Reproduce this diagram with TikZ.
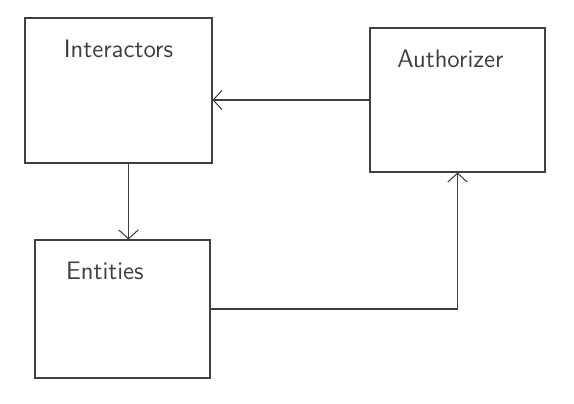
\documentclass[tikz,border=0pt]{standalone}
\usepackage{tikz}
\usetikzlibrary{positioning, arrows.meta}

\begin{document}
\begin{tikzpicture}[
    x=0.02cm, y=-0.02cm,
    >={Straight Barb[length=5pt, width=11pt]},
    font=\sffamily\Large,
    box/.style={rectangle, draw=black!75, semithick, inner sep=0pt},
    title/.style={anchor=north, text=black!75, yshift=-9pt},
    arrow/.style={->, draw=black!75, semithick}
]
\useasboundingbox (0,0) rectangle (574,404);
\node[box, minimum width=3.74cm, minimum height=2.9cm, label={[title]north:Interactors}] (inter) at (118.5,90.5) {};
\node[box, minimum width=3.5cm, minimum height=2.88cm, label={[title, xshift=-4pt]north:Authorizer}] (auth) at (457.5,100) {};
\node[box, minimum width=3.5cm, minimum height=2.76cm, label={[title, xshift=-10pt]north:Entities}] (ent) at (122.5,309) {};
\draw[arrow] (auth.west) -- (auth.west -| inter.east);
\draw[arrow] ([xshift=0.2cm]inter.south) -- ([xshift=0.2cm]inter.south |- ent.north);
\draw[arrow] (ent.east) -| (auth.south);
\end{tikzpicture}
\end{document}
